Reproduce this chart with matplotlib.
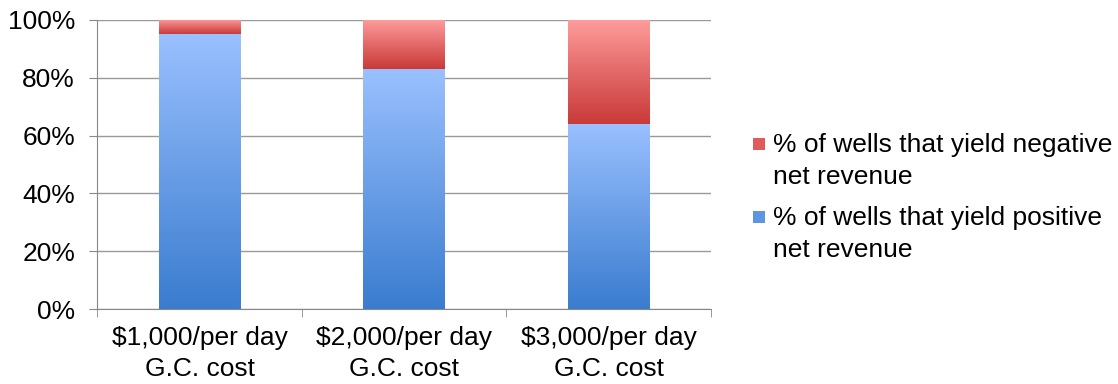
import numpy as np
import matplotlib.pyplot as plt
from matplotlib.colors import LinearSegmentedColormap
from matplotlib.patches import Rectangle

plt.rcParams['font.family'] = ['Liberation Sans', 'DejaVu Sans']
plt.rcParams['font.size'] = 19

categories = ['$1,000/per day\nG.C. cost', '$2,000/per day\nG.C. cost', '$3,000/per day\nG.C. cost']
positive = [95, 83, 64]
negative = [5, 17, 36]
labels = ['% of wells that yield negative\nnet revenue', '% of wells that yield positive\nnet revenue']

blue_cmap = LinearSegmentedColormap.from_list('b', ['#3a7ccf', '#6a9ee6', '#9ac0ff'])
red_cmap = LinearSegmentedColormap.from_list('r', ['#c93a38', '#e26a69', '#ff9d9d'])

fig = plt.figure(figsize=(11.18, 3.84), dpi=100)
ax = fig.add_axes([0.087, 0.195, 0.549, 0.753])

x = np.arange(len(categories))
w = 0.4
grad = np.linspace(0, 1, 256).reshape(-1, 1)

def grad_bars(bottoms, heights, cmap):
    bars = ax.bar(x, heights, w, bottom=bottoms, color='none', edgecolor='none', zorder=3)
    for b in bars:
        x0, y0 = b.get_x(), b.get_y()
        im = ax.imshow(grad, cmap=cmap, origin='lower', aspect='auto',
                       extent=[x0, x0 + b.get_width(), y0, y0 + b.get_height()], zorder=3)
        im.set_clip_path(b)
    return bars

grad_bars(np.zeros(3), positive, blue_cmap)
grad_bars(positive, negative, red_cmap)

ax.set_xlim(-0.5, 2.5)
ax.set_ylim(0, 100)
ax.set_yticks(range(0, 101, 20))
ax.set_yticklabels([f'{v}%' for v in range(0, 101, 20)])
ax.set_xticks(x)
ax.set_xticklabels(categories, linespacing=1.38)
ax.set_xticks([-0.5, 0.5, 1.5, 2.5], minor=True)
ax.tick_params(axis='x', which='major', length=0, pad=12)
ax.tick_params(axis='x', which='minor', length=6, color='#888888')
ax.tick_params(axis='y', length=6, color='#888888', pad=10)
ax.yaxis.grid(True, color='#999999', linewidth=1)
ax.set_axisbelow(True)
for s in ['top', 'right']:
    ax.spines[s].set_visible(False)
for s in ['left', 'bottom']:
    ax.spines[s].set_color('#888888')

# legend drawn by hand so the swatch sits beside the first line
legend_colors = ['#e05b5a', '#5d95e0']
legend_y = [1 - 161 / 384, 1 - 234 / 384]
for lab, col, yc in zip(labels, legend_colors, legend_y):
    fig.text(0.691, yc, lab, va='center', ha='left', linespacing=1.38)
    fig.patches.append(Rectangle((753 / 1118, yc + 11 / 384), 12 / 1118, 12 / 384,
                                 transform=fig.transFigure, facecolor=col, edgecolor='none'))

fig.savefig('out.png', dpi=100)
